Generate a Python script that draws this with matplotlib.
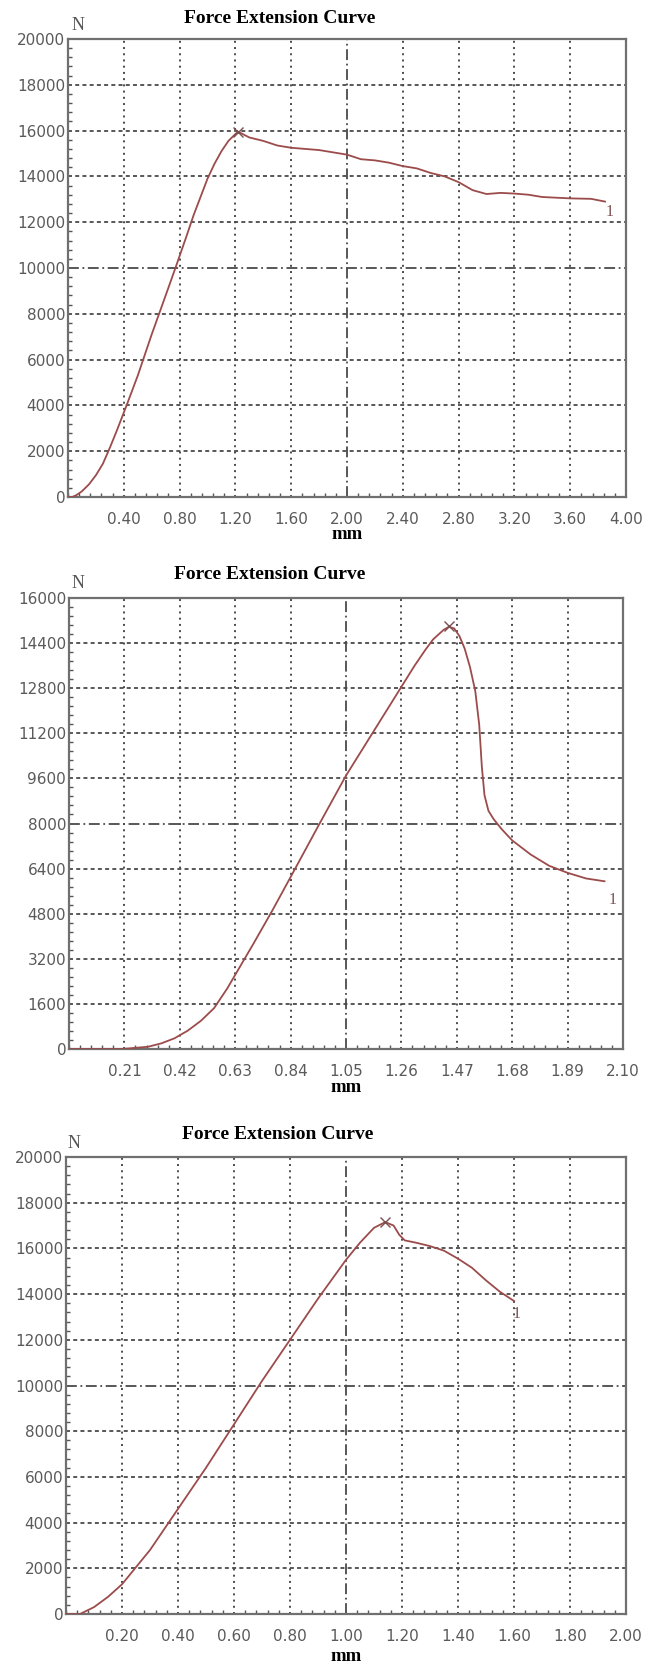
import numpy as np
import matplotlib
matplotlib.use('Agg')
import matplotlib.pyplot as plt
from matplotlib.ticker import MultipleLocator

# Данные кривых (мм, Н)
ext1 = [0.0, 0.03, 0.06, 0.1, 0.15, 0.2, 0.25, 0.3, 0.35, 0.42, 0.5, 0.6, 0.7, 0.77, 0.85, 0.9,
        1.0, 1.05, 1.1, 1.15, 1.2, 1.22, 1.3, 1.4, 1.5, 1.6, 1.8, 2.0, 2.1, 2.2, 2.3, 2.4, 2.5,
        2.6, 2.7, 2.8, 2.9, 3.0, 3.1, 3.2, 3.3, 3.4, 3.6, 3.75, 3.85]
force1 = [0, 0, 80, 250, 550, 950, 1450, 2150, 2900, 4000, 5300, 7100, 8800, 10000, 11400, 12300,
          13900, 14550, 15100, 15550, 15850, 15950, 15700, 15550, 15350, 15250, 15150, 14950, 14750,
          14700, 14600, 14450, 14350, 14150, 14000, 13750, 13400, 13230, 13280, 13250, 13200, 13100,
          13040, 13020, 12900]

ext2 = [0.0, 0.1, 0.2, 0.3, 0.35, 0.4, 0.45, 0.5, 0.55, 0.6, 0.65, 0.7, 0.77, 0.84, 0.95, 1.05,
        1.15, 1.23, 1.27, 1.31, 1.35, 1.38, 1.42, 1.44, 1.46, 1.48, 1.50, 1.52, 1.54, 1.555, 1.565,
        1.575, 1.59, 1.61, 1.64, 1.68, 1.75, 1.82, 1.89, 1.96, 2.03]
force2 = [0, 0, 0, 80, 200, 380, 650, 1000, 1450, 2150, 2950, 3750, 4900, 6100, 8000, 9700,
          11200, 12400, 13000, 13600, 14150, 14530, 14870, 14980, 14920, 14650, 14200, 13550, 12700,
          11500, 10000, 9000, 8450, 8150, 7800, 7400, 6900, 6500, 6250, 6050, 5950]

ext3 = [0.0, 0.05, 0.1, 0.15, 0.2, 0.25, 0.3, 0.4, 0.5, 0.6, 0.7, 0.8, 0.9, 1.0, 1.05, 1.1, 1.14,
        1.17, 1.19, 1.21, 1.25, 1.3, 1.35, 1.4, 1.45, 1.5, 1.55, 1.6]
force3 = [0, 0, 300, 750, 1300, 2050, 2800, 4600, 6400, 8300, 10200, 12000, 13800, 15500, 16250,
          16900, 17150, 17000, 16600, 16350, 16250, 16100, 15900, 15550, 15150, 14600, 14100, 13700]

# Пики (крестик) и метка "1" в конце кривой
peaks = [(1.22, 15950), (1.44, 15000), (1.14, 17150)]
ends = [(3.88, 12450), (2.06, 5300), (1.61, 13150)]

# Деления осей
xticks1 = [0.40, 0.80, 1.20, 1.60, 2.00, 2.40, 2.80, 3.20, 3.60, 4.00]
yticks1 = [0, 2000, 4000, 6000, 8000, 10000, 12000, 14000, 16000, 18000, 20000]
xticks2 = [0.21, 0.42, 0.63, 0.84, 1.05, 1.26, 1.47, 1.68, 1.89, 2.10]
yticks2 = [0, 1600, 3200, 4800, 6400, 8000, 9600, 11200, 12800, 14400, 16000]
xticks3 = [0.20, 0.40, 0.60, 0.80, 1.00, 1.20, 1.40, 1.60, 1.80, 2.00]
yticks3 = [0, 2000, 4000, 6000, 8000, 10000, 12000, 14000, 16000, 18000, 20000]

W, H = 645, 1668
fig = plt.figure(figsize=(W / 100, H / 100), dpi=100)
fig.patch.set_facecolor('white')

curve_color = '#9c4b4b'
grid_color = '#4a4a4a'
label_color = '#5a5a5a'


def add_axes_px(left, right, top, bottom):
    return fig.add_axes([left / W, 1 - bottom / H, (right - left) / W, (bottom - top) / H])


def text_px(x, y, s, **kw):
    fig.text(x / W, 1 - y / H, s, **kw)


def draw_panel(ax, ext, force, xticks, yticks, xmax, peak, end):
    ymax = yticks[-1]
    ax.set_xlim(0, xmax)
    ax.set_ylim(0, ymax)
    mid_x = xticks[4]
    mid_y = yticks[5]
    # сетка
    for xv in xticks[:-1]:
        if xv == mid_x:
            ax.axvline(xv, color=grid_color, lw=1.3, ls=(0, (6, 2, 1, 2)), zorder=1)
        else:
            ax.axvline(xv, color=grid_color, lw=1.4, ls=(0, (1, 2.2)), zorder=1)
    for yv in yticks[1:-1]:
        if yv == mid_y:
            ax.axhline(yv, color=grid_color, lw=1.3, ls=(0, (6, 2, 1, 2)), zorder=1)
        else:
            ax.axhline(yv, color=grid_color, lw=1.3, ls=(0, (2.2, 1.8)), zorder=1)
    # кривая
    ax.plot(ext, force, color=curve_color, lw=1.3, zorder=3)
    ax.plot(peak[0], peak[1], marker='x', color='#7a5050', markersize=7, mew=1.0, zorder=4)
    ax.text(end[0], end[1], '1', fontsize=11.5, family='Liberation Serif', color='#7a5050',
            ha='center', va='center', zorder=4)

    ax.set_xticks(xticks)
    ax.set_xticklabels(['%.2f' % v for v in xticks])
    ax.set_yticks(yticks)
    ax.set_yticklabels([str(v) for v in yticks])
    step = xticks[1] - xticks[0]
    ax.xaxis.set_minor_locator(MultipleLocator(step / 5))
    ax.yaxis.set_minor_locator(MultipleLocator((yticks[1] - yticks[0]) / 5))
    ax.tick_params(axis='both', which='major', length=0, labelsize=11, labelcolor=label_color)
    ax.tick_params(axis='x', which='major', pad=11)
    ax.tick_params(axis='y', which='major', pad=2)
    ax.tick_params(axis='both', which='minor', direction='in', length=3, width=1.0,
                   color='#555555')
    ax.tick_params(top=False, right=False, which='both')
    for sp in ax.spines.values():
        sp.set_color('#707070')
        sp.set_linewidth(1.6)
    for lab in ax.get_xticklabels() + ax.get_yticklabels():
        lab.set_family('DejaVu Sans')


panels = [
    # (left, right, top, bottom) в пикселях
    ((68, 626, 39, 497), ext1, force1, xticks1, yticks1, 4.0, peaks[0], ends[0]),
    ((69, 623, 598, 1049), ext2, force2, xticks2, yticks2, 2.10, peaks[1], ends[1]),
    ((66, 626, 1157, 1614), ext3, force3, xticks3, yticks3, 2.00, peaks[2], ends[2]),
]

title_pos = [(280, 23), (270, 579), (278, 1139)]
n_pos = [(78, 25), (78, 584), (74, 1143)]
mm_y = [539, 1092, 1661]

for i, (box, ext, force, xt, yt, xmax, pk, en) in enumerate(panels):
    ax = add_axes_px(*box)
    draw_panel(ax, ext, force, xt, yt, xmax, pk, en)
    text_px(title_pos[i][0], title_pos[i][1], 'Force Extension Curve', fontsize=14,
            fontweight='bold', family='Liberation Serif', ha='center', va='baseline')
    text_px(n_pos[i][0], n_pos[i][1], 'N', fontsize=13, family='Liberation Serif',
            color='#555555', ha='center', va='center')
    text_px((box[0] + box[1]) / 2, mm_y[i], 'mm', fontsize=13.5, fontweight='bold',
            family='Liberation Serif', ha='center', va='baseline')

fig.savefig('out.png', dpi=100)
